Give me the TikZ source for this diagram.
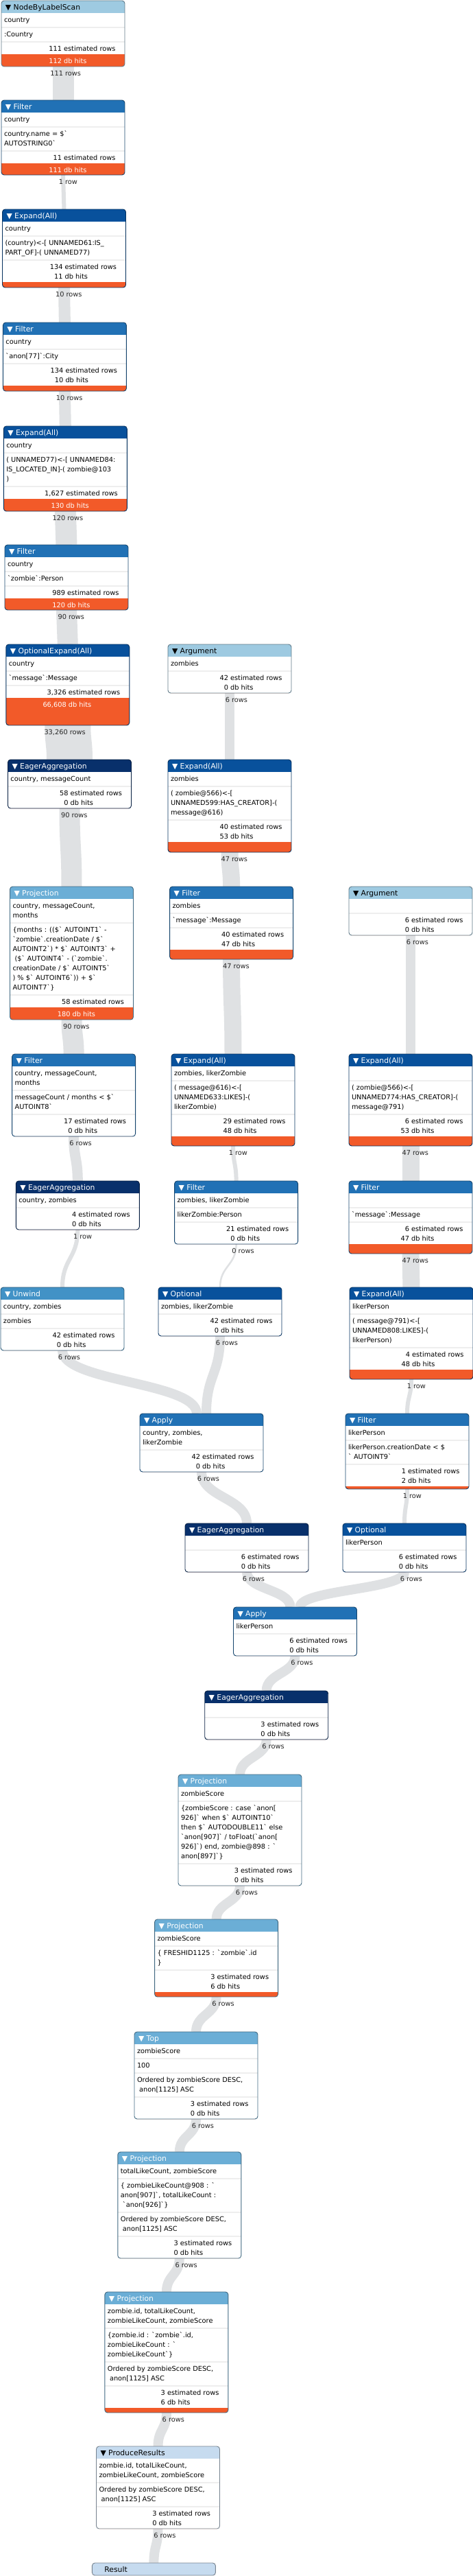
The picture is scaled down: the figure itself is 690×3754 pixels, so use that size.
\documentclass[tikz,border=0pt]{standalone}
\usepackage{fontspec}
\usetikzlibrary{calc}
\newfontfamily\df{DejaVu Sans}
\newcommand\bq{\XeTeXglyph\XeTeXcharglyph"60\relax}
\definecolor{c1}{HTML}{C6DBEF}
\definecolor{c2}{HTML}{9ECAE1}
\definecolor{c3}{HTML}{6BAED6}
\definecolor{c4}{HTML}{4292C6}
\definecolor{c5}{HTML}{2171B5}
\definecolor{c6}{HTML}{08519C}
\definecolor{c7}{HTML}{08306B}
\definecolor{costc}{HTML}{F25A29}
\definecolor{flowc}{HTML}{DFE1E3}
\definecolor{sepc}{HTML}{EEEEEE}
\pgfdeclarelayer{bgl}\pgfdeclarelayer{edges}\pgfdeclarelayer{boxbg}
\pgfsetlayers{bgl,edges,boxbg,main}
\newcount\tcnt
\tikzset{
  txt/.style={anchor=base west, inner sep=0pt, outer sep=0pt, font=\df\fontsize{9.8}{12}\selectfont, text=black},
  ttl/.style={anchor=base west, inner sep=0pt, outer sep=0pt, font=\df\fontsize{10.8}{13}\selectfont},
  lbl/.style={anchor=base west, inner sep=0pt, outer sep=0pt, font=\df\fontsize{9.8}{12}\selectfont, text=black!85},
  sepl/.style={draw=sepc, line width=1.6pt},
  flow/.style={draw=flowc},
  frame/.style={draw=#1!60!black, line width=0.9pt, rounded corners=4pt, minimum width=180pt, inner sep=0pt, outer sep=0pt},
}
\newcommand\NewT{\global\advance\tcnt by 1\relax}
\newcommand\OpBegin[5]{\xdef\bL{#1}\xdef\bT{#2}\xdef\bHdr{#3}\xdef\bTc{#4}\gdef\bTitle{#5}%
  \pgfmathsetmacro\myTmp{#2+18}\xdef\bY{\myTmp}}
\newcommand\Grp[1]{%
  \foreach \lnx [count=\k from 0] in {#1}{%
    \pgfmathsetmacro\yy{\bY+13+14*\k}%
    \NewT
    \node[txt] (t\the\tcnt) at (\bL+4,\yy) {\lnx};
    \xdef\nl{\k}}%
  \pgfmathsetmacro\myTmp{\bY+14*(\nl+1)+7}\xdef\bY{\myTmp}%
  \draw[sepl] (\bL,\bY) -- (\bL+180,\bY);}
\newcommand\CostA[3]{%
  \pgfmathsetmacro\ya{\bY+13}\pgfmathsetmacro\yb{\bY+27}%
  \NewT\node[txt] (t\the\tcnt) at (\bL+88,\ya) {\llap{#1} estimated rows};
  \NewT\node[txt] (t\the\tcnt) at (\bL+88,\yb) {\llap{#2} db hits};
  \pgfmathsetmacro\myTmp{\bY+32}\xdef\bBarTop{\myTmp}%
  \pgfmathsetmacro\myTmp{\bY+32+#3}\xdef\bBot{\myTmp}}
\newcommand\CostB[3]{%
  \pgfmathsetmacro\ya{\bY+13}\pgfmathsetmacro\yb{\bY+31}%
  \NewT\node[txt] (t\the\tcnt) at (\bL+88,\ya) {\llap{#1} estimated rows};
  \NewT\node[txt,text=white] (t\the\tcnt) at (\bL+88,\yb) {\llap{#2} db hits};
  \pgfmathsetmacro\myTmp{\bY+18}\xdef\bBarTop{\myTmp}%
  \pgfmathsetmacro\myTmp{\bY+18+#3}\xdef\bBot{\myTmp}}
\newcommand\OpEnd[1]{%
  \pgfmathsetmacro\hh{\bBot-\bT}%
  \begin{pgfonlayer}{boxbg}
    \begin{scope}
      \clip[rounded corners=4pt] (\bL,\bT) rectangle (\bL+180,\bBot);
      \fill[white] (\bL,\bT) rectangle (\bL+180,\bBot);
      \fill[\bHdr] (\bL,\bT) rectangle (\bL+180,\bT+18);
      \fill[costc] (\bL,\bBarTop) rectangle (\bL+180,\bBot);
    \end{scope}
  \end{pgfonlayer}
  \node[frame=\bHdr, minimum height=\hh, anchor=north west] (#1) at (\bL,\bT) {};
  \NewT\node[ttl, text=\bTc] (t\the\tcnt) at (\bL+6,\bT+13.5) {▼ \bTitle};}
\newcommand\Edge[6]{%
  \coordinate (#1s) at (#2);
  \coordinate (#1e) at (#3);
  \coordinate (#1m) at ($(#1s)!0.5!(#1e)$);
  \begin{pgfonlayer}{edges}
  \draw[flow, line width=#4pt] (#1s) .. controls (#1s |- #1m) and (#1e |- #1m) .. (#1e);
  \end{pgfonlayer}
  \node[lbl] (#1l) at ([yshift=-13pt]#1s) {\llap{#5} #6};}
\begin{document}
\begin{tikzpicture}[x=1pt,y=-1pt]
\useasboundingbox (0,0) rectangle (690,3754);
\begin{pgfonlayer}{bgl}\fill[white] (0,0) rectangle (690,3754);\end{pgfonlayer}
% ---- column 1
\OpBegin{2}{1}{c2}{black}{NodeByLabelScan}
\Grp{{country}}\Grp{{:Country}}\CostB{111}{112}{18}\OpEnd{b1}
\OpBegin{2}{146}{c5}{white}{Filter}
\Grp{{country}}\Grp{{country.name = \$\bq},{AUTOSTRING0\bq}}\CostB{11}{111}{17}\OpEnd{b2}
\OpBegin{3.5}{305}{c6}{white}{Expand(All)}
\Grp{{country}}\Grp{{(country)<-[ UNNAMED61:IS\_},{PART\_OF]-( UNNAMED77)}}\CostA{134}{11}{8}\OpEnd{b3}
\OpBegin{4.4}{470}{c5}{white}{Filter}
\Grp{{country}}\Grp{{\bq anon[77]\bq:City}}\CostA{134}{10}{8}\OpEnd{b4}
\OpBegin{5.3}{621}{c6}{white}{Expand(All)}
\Grp{{country}}\Grp{{( UNNAMED77)<-[ UNNAMED84:},{IS\_LOCATED\_IN]-( zombie@103},{)}}\CostB{1,627}{130}{18}\OpEnd{b5}
\OpBegin{7}{794}{c5}{white}{Filter}
\Grp{{country}}\Grp{{\bq zombie\bq:Person}}\CostB{989}{120}{17}\OpEnd{b6}
\OpBegin{8.8}{939}{c6}{white}{OptionalExpand(All)}
\Grp{{country}}\Grp{{\bq message\bq:Message}}\CostB{3,326}{66,608}{40}\OpEnd{b7}
\OpBegin{11.5}{1107}{c7}{white}{EagerAggregation}
\Grp{{country, messageCount}}\CostA{58}{0}{0}\OpEnd{b8}
\OpBegin{14.5}{1292}{c3}{white}{Projection}
\Grp{{country, messageCount,},{months}}
\Grp{{\{months : ((\$\bq\ AUTOINT1\bq\ -},{\bq zombie\bq.creationDate / \$\bq},{AUTOINT2\bq) * \$\bq\ AUTOINT3\bq\ +},{\ (\$\bq\ AUTOINT4\bq\ - (\bq zombie\bq.},{creationDate / \$\bq\ AUTOINT5\bq},{) \% \$\bq\ AUTOINT6\bq)) + \$\bq},{AUTOINT7\bq\}}}
\CostB{58}{180}{18}\OpEnd{b9}
\OpBegin{17.6}{1536}{c5}{white}{Filter}
\Grp{{country, messageCount,},{months}}\Grp{{messageCount / months < \$\bq},{AUTOINT8\bq}}\CostA{17}{0}{0}\OpEnd{b10}
\OpBegin{23.3}{1721}{c7}{white}{EagerAggregation}
\Grp{{country, zombies}}\CostA{4}{0}{0}\OpEnd{b11}
\OpBegin{1}{1876}{c4}{white}{Unwind}
\Grp{{country, zombies}}\Grp{{zombies}}\CostA{42}{0}{0}\OpEnd{b12}
% ---- column 2
\OpBegin{245}{939}{c2}{black}{Argument}
\Grp{{zombies}}\CostA{42}{0}{0}\OpEnd{b13}
\OpBegin{245}{1107}{c6}{white}{Expand(All)}
\Grp{{zombies}}\Grp{{( zombie@566)<-[},{UNNAMED599:HAS\_CREATOR]-(},{message@616)}}\CostA{40}{53}{15}\OpEnd{b14}
\OpBegin{247.6}{1292}{c5}{white}{Filter}
\Grp{{zombies}}\Grp{{\bq message\bq:Message}}\CostA{40}{47}{14}\OpEnd{b15}
\OpBegin{250}{1536}{c6}{white}{Expand(All)}
\Grp{{zombies, likerZombie}}\Grp{{( message@616)<-[},{UNNAMED633:LIKES]-(},{likerZombie)}}\CostA{29}{48}{14}\OpEnd{b16}
\OpBegin{254.6}{1721}{c5}{white}{Filter}
\Grp{{zombies, likerZombie}}\Grp{{likerZombie:Person}}\CostA{21}{0}{0}\OpEnd{b17}
\OpBegin{231}{1876}{c6}{white}{Optional}
\Grp{{zombies, likerZombie}}\CostA{42}{0}{0}\OpEnd{b18}
\OpBegin{204}{2060}{c5}{white}{Apply}
\Grp{{country, zombies,},{likerZombie}}\CostA{42}{0}{0}\OpEnd{b19}
% ---- column 3
\OpBegin{509}{1292}{c2}{black}{Argument}
\Grp{{\relax}}\CostA{6}{0}{0}\OpEnd{b20}
\OpBegin{509}{1536}{c6}{white}{Expand(All)}
\Grp{{\relax}}\Grp{{( zombie@566)<-[},{UNNAMED774:HAS\_CREATOR]-(},{message@791)}}\CostA{6}{53}{14}\OpEnd{b21}
\OpBegin{509}{1721}{c5}{white}{Filter}
\Grp{{\relax}}\Grp{{\bq message\bq:Message}}\CostA{6}{47}{14}\OpEnd{b22}
\OpBegin{510}{1876}{c6}{white}{Expand(All)}
\Grp{{likerPerson}}\Grp{{( message@791)<-[},{UNNAMED808:LIKES]-(},{likerPerson)}}\CostA{4}{48}{14}\OpEnd{b23}
\OpBegin{504}{2060}{c5}{white}{Filter}
\Grp{{likerPerson}}\Grp{{likerPerson.creationDate < \$},{\bq\ AUTOINT9\bq}}\CostA{1}{2}{4}\OpEnd{b24}
\OpBegin{500}{2220}{c6}{white}{Optional}
\Grp{{likerPerson}}\CostA{6}{0}{0}\OpEnd{b25}
% ---- trunk
\OpBegin{270}{2220}{c7}{white}{EagerAggregation}
\Grp{{\relax}}\CostA{6}{0}{0}\OpEnd{b26}
\OpBegin{340.5}{2342}{c5}{white}{Apply}
\Grp{{likerPerson}}\CostA{6}{0}{0}\OpEnd{b27}
\OpBegin{298.7}{2464}{c7}{white}{EagerAggregation}
\Grp{{\relax}}\CostA{3}{0}{0}\OpEnd{b28}
\OpBegin{260}{2586}{c3}{white}{Projection}
\Grp{{zombieScore}}
\Grp{{\{zombieScore : case \bq anon[},{926]\bq\ when \$\bq\ AUTOINT10\bq},{then \$\bq\ AUTODOUBLE11\bq\ else},{\bq anon[907]\bq\ / toFloat(\bq anon[},{926]\bq) end, zombie@898 : \bq},{anon[897]\bq\}}}
\CostA{3}{0}{0}\OpEnd{b29}
\OpBegin{225.6}{2797}{c3}{white}{Projection}
\Grp{{zombieScore}}\Grp{{\{ FRESHID1125 : \bq zombie\bq.id},{\}}}\CostA{3}{6}{7}\OpEnd{b30}
\OpBegin{196}{2961}{c3}{white}{Top}
\Grp{{zombieScore}}\Grp{{100}}\Grp{{Ordered by zombieScore DESC,},{\ anon[1125] ASC}}\CostA{3}{0}{0}\OpEnd{b31}
\OpBegin{171.8}{3136}{c3}{white}{Projection}
\Grp{{totalLikeCount, zombieScore}}
\Grp{{\{ zombieLikeCount@908 : \bq},{anon[907]\bq, totalLikeCount :},{\ \bq anon[926]\bq\}}}
\Grp{{Ordered by zombieScore DESC,},{\ anon[1125] ASC}}\CostA{3}{0}{0}\OpEnd{b32}
\OpBegin{152.9}{3340}{c3}{white}{Projection}
\Grp{{zombie.id, totalLikeCount,},{zombieLikeCount, zombieScore}}
\Grp{{\{zombie.id : \bq zombie\bq.id,},{zombieLikeCount : \bq},{zombieLikeCount\bq\}}}
\Grp{{Ordered by zombieScore DESC,},{\ anon[1125] ASC}}\CostA{3}{6}{7}\OpEnd{b33}
\OpBegin{140.5}{3565}{c1}{black}{ProduceResults}
\Grp{{zombie.id, totalLikeCount,},{zombieLikeCount, zombieScore}}
\Grp{{Ordered by zombieScore DESC,},{\ anon[1125] ASC}}\CostA{3}{0}{0}\OpEnd{b34}
\node[frame=c1, fill=c1, minimum height=18, anchor=north west] (b35) at (134.4,3735) {};
\node[ttl, text=black] (tres) at (152.4,3748.5) {Result};
% ---- flows
\Edge{e1}{b1.south}{b2.north}{31}{111}{rows}
\Edge{e2}{b2.south}{b3.north}{6}{1}{row}
\Edge{e3}{b3.south}{b4.north}{17}{10}{rows}
\Edge{e4}{b4.south}{b5.north}{17}{10}{rows}
\Edge{e5}{b5.south}{b6.north}{31}{120}{rows}
\Edge{e6}{b6.south}{b7.north}{30}{90}{rows}
\Edge{e7}{b7.south}{b8.north}{67}{33,260}{rows}
\Edge{e8}{b8.south}{b9.north}{30}{90}{rows}
\Edge{e9}{b9.south}{b10.north}{30}{90}{rows}
\Edge{e10}{b10.south}{b11.north}{15}{6}{rows}
\Edge{e11}{b11.south}{b12.north}{6}{1}{row}
\Edge{e12}{b12.south}{[xshift=-7pt]b19.north}{14}{6}{rows}
\Edge{e13}{b18.south}{[xshift=7pt]b19.north}{14}{6}{rows}
\Edge{e14}{b13.south}{b14.north}{14}{6}{rows}
\Edge{e15}{b14.south}{b15.north}{25}{47}{rows}
\Edge{e16}{b15.south}{b16.north}{25}{47}{rows}
\Edge{e17}{b16.south}{b17.north}{6}{1}{row}
\Edge{e18}{b17.south}{b18.north}{2.5}{0}{rows}
\Edge{e19}{b20.south}{b21.north}{14}{6}{rows}
\Edge{e20}{b21.south}{b22.north}{25}{47}{rows}
\Edge{e21}{b22.south}{b23.north}{25}{47}{rows}
\Edge{e22}{b23.south}{b24.north}{6}{1}{row}
\Edge{e23}{b24.south}{b25.north}{6}{1}{row}
\Edge{e24}{b19.south}{b26.north}{14}{6}{rows}
\Edge{e25}{b26.south}{[xshift=-7pt]b27.north}{14}{6}{rows}
\Edge{e26}{b25.south}{[xshift=7pt]b27.north}{14}{6}{rows}
\Edge{e27}{b27.south}{b28.north}{14}{6}{rows}
\Edge{e28}{b28.south}{b29.north}{14}{6}{rows}
\Edge{e29}{b29.south}{b30.north}{14}{6}{rows}
\Edge{e30}{b30.south}{b31.north}{14}{6}{rows}
\Edge{e31}{b31.south}{b32.north}{14}{6}{rows}
\Edge{e32}{b32.south}{b33.north}{14}{6}{rows}
\Edge{e33}{b33.south}{b34.north}{14}{6}{rows}
\Edge{e34}{b34.south}{b35.north}{14}{6}{rows}
\end{tikzpicture}
\end{document}
